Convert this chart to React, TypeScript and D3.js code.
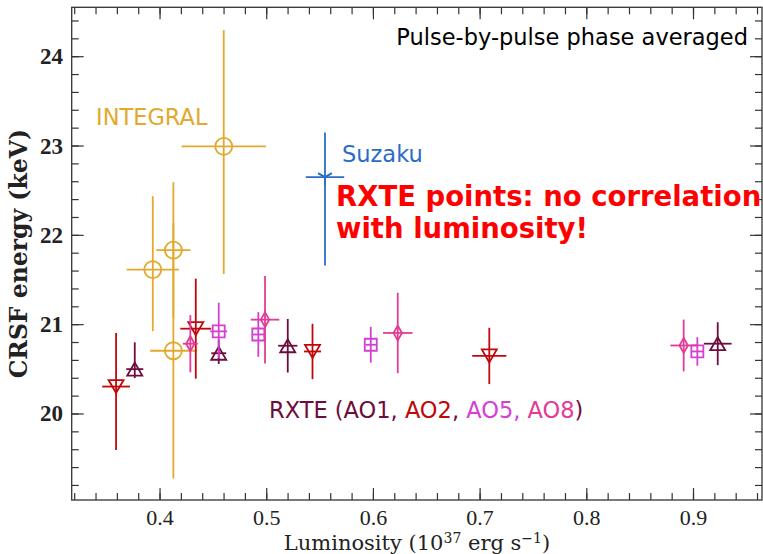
import React from 'react';
import * as d3 from 'd3';

const W = 763;
const H = 554;
const PLOT = { left: 71.7, right: 762, top: 7.3, bottom: 500 };

const xDomain = [0.3172, 0.9642];
const yDomain = [19.037, 24.553];
const xMajorTicks = [0.4, 0.5, 0.6, 0.7, 0.8, 0.9];
const yMajorTicks = [20, 21, 22, 23, 24];

// INTEGRAL
const integralL = [0.3932, 0.4125, 0.4125, 0.4597];
const integralE = [21.617, 21.835, 20.708, 22.997];
const integralLErr = [0.0245, 0.016, 0.0218, 0.0395];
const integralELo = [0.69, 0.76, 1.43, 1.43];
const integralEHi = [0.82, 0.76, 1.43, 1.3];

// Suzaku
const suzakuL = [0.5546];
const suzakuE = [22.652];
const suzakuLErr = [0.018];
const suzakuELo = [0.99];
const suzakuEHi = [0.5];

// RXTE AO1
const ao1L = [0.3763, 0.455, 0.5197, 0.9227];
const ao1E = [20.502, 20.68, 20.764, 20.787];
const ao1LErr = [0.008, 0.007, 0.009, 0.013];
const ao1ELo = [0.1, 0.12, 0.3, 0.24];
const ao1EHi = [0.3, 0.15, 0.3, 0.24];

// RXTE AO2
const ao2L = [0.3588, 0.4335, 0.5429, 0.7086];
const ao2E = [20.307, 20.955, 20.7, 20.65];
const ao2LErr = [0.013, 0.0145, 0.008, 0.016];
const ao2ELo = [0.71, 0.56, 0.31, 0.315];
const ao2EHi = [0.6, 0.56, 0.31, 0.315];

// RXTE AO5
const ao5L = [0.455, 0.4921, 0.5975, 0.9036];
const ao5E = [20.925, 20.89, 20.775, 20.7];
const ao5LErr = [0.008, 0.006, 0.005, 0.006];
const ao5ELo = [0.3, 0.25, 0.2, 0.16];
const ao5EHi = [0.32, 0.25, 0.2, 0.16];

// RXTE AO8
const ao8L = [0.4284, 0.4984, 0.6228, 0.8908];
const ao8E = [20.787, 21.056, 20.907, 20.767];
const ao8LErr = [0.007, 0.0134, 0.0138, 0.0125];
const ao8ELo = [0.32, 0.49, 0.45, 0.29];
const ao8EHi = [0.32, 0.49, 0.45, 0.29];

const C_INTEGRAL = '#e2a92e';
const C_SUZAKU = '#2b6dc6';
const C_AO1 = '#6e0c3e';
const C_AO2 = '#c0080c';
const C_AO5 = '#d43fd4';
const C_AO8 = '#e23c96';

const x = d3.scaleLinear().domain(xDomain).range([PLOT.left, PLOT.right]);
const y = d3.scaleLinear().domain(yDomain).range([PLOT.bottom, PLOT.top]);

type MarkerKind = 'circle' | 'tdown' | 'tup' | 'square' | 'diamond' | 'tri1';

function markerPath(kind: MarkerKind, cx: number, cy: number): string {
  const p = d3.path();
  if (kind === 'circle') {
    p.moveTo(cx + 8.5, cy);
    p.arc(cx, cy, 8.5, 0, Math.PI * 2);
    p.closePath();
  } else if (kind === 'tdown') {
    p.moveTo(cx - 7.5, cy - 6.5);
    p.lineTo(cx + 7.5, cy - 6.5);
    p.lineTo(cx, cy + 6.5);
    p.closePath();
  } else if (kind === 'tup') {
    p.moveTo(cx - 7.5, cy + 6.5);
    p.lineTo(cx + 7.5, cy + 6.5);
    p.lineTo(cx, cy - 6.5);
    p.closePath();
  } else if (kind === 'square') {
    p.rect(cx - 6, cy - 6, 12, 12);
  } else if (kind === 'diamond') {
    p.moveTo(cx, cy - 7.5);
    p.lineTo(cx + 4.2, cy);
    p.lineTo(cx, cy + 7.5);
    p.lineTo(cx - 4.2, cy);
    p.closePath();
  } else {
    const r = 8;
    p.moveTo(cx, cy);
    p.lineTo(cx, cy + r);
    p.moveTo(cx, cy);
    p.lineTo(cx - 0.866 * r, cy - 0.5 * r);
    p.moveTo(cx, cy);
    p.lineTo(cx + 0.866 * r, cy - 0.5 * r);
  }
  return p.toString();
}

interface SeriesProps {
  L: number[];
  E: number[];
  LErr: number[];
  ELo: number[];
  EHi: number[];
  color: string;
  kind: MarkerKind;
}

function Series({ L, E, LErr, ELo, EHi, color, kind }: SeriesProps) {
  return (
    <g>
      {L.map((l, i) => (
        <g key={i} stroke={color} fill="none" strokeWidth={1.8}>
          <line x1={x(l - LErr[i])} x2={x(l + LErr[i])} y1={y(E[i])} y2={y(E[i])} />
          <line x1={x(l)} x2={x(l)} y1={y(E[i] - ELo[i])} y2={y(E[i] + EHi[i])} />
          <path d={markerPath(kind, x(l), y(E[i]))} strokeWidth={kind === 'tri1' ? 2 : 1.8} />
        </g>
      ))}
    </g>
  );
}

export default function App() {
  const xMinor = d3.range(16, 49).map((i) => i * 0.02).filter((v) => v >= xDomain[0] && v <= xDomain[1]);
  const yMinor = d3.range(96, 123).map((i) => i * 0.2).filter((v) => v >= yDomain[0] && v <= yDomain[1]);
  const axisColor = '#333';
  const major = 12;
  const minor = 7;
  return (
    <svg width={W} height={H} style={{ position: 'absolute', left: 0, top: 0, background: '#fff' }}>
      <rect x={0} y={0} width={W} height={H} fill="#fff" />
      {/* ticks */}
      <g stroke={axisColor} strokeWidth={1.2}>
        {xMinor.map((v, i) => (
          <g key={'xm' + i}>
            <line x1={x(v)} x2={x(v)} y1={PLOT.bottom} y2={PLOT.bottom - minor} />
            <line x1={x(v)} x2={x(v)} y1={PLOT.top} y2={PLOT.top + minor} />
          </g>
        ))}
        {xMajorTicks.map((v, i) => (
          <g key={'xM' + i}>
            <line x1={x(v)} x2={x(v)} y1={PLOT.bottom} y2={PLOT.bottom - major} />
            <line x1={x(v)} x2={x(v)} y1={PLOT.top} y2={PLOT.top + major} />
          </g>
        ))}
        {yMinor.map((v, i) => (
          <g key={'ym' + i}>
            <line x1={PLOT.left} x2={PLOT.left + minor} y1={y(v)} y2={y(v)} />
            <line x1={PLOT.right} x2={PLOT.right - minor} y1={y(v)} y2={y(v)} />
          </g>
        ))}
        {yMajorTicks.map((v, i) => (
          <g key={'yM' + i}>
            <line x1={PLOT.left} x2={PLOT.left + major} y1={y(v)} y2={y(v)} />
            <line x1={PLOT.right} x2={PLOT.right - major} y1={y(v)} y2={y(v)} />
          </g>
        ))}
      </g>
      <rect
        x={PLOT.left}
        y={PLOT.top}
        width={PLOT.right - PLOT.left}
        height={PLOT.bottom - PLOT.top}
        fill="none"
        stroke={axisColor}
        strokeWidth={1.3}
      />
      {/* tick labels */}
      <g fontFamily="Liberation Serif" fontSize={22} fill="#222">
        {xMajorTicks.map((v, i) => (
          <text key={'xl' + i} x={x(v)} y={525} textAnchor="middle">
            {v.toFixed(1)}
          </text>
        ))}
        {yMajorTicks.map((v, i) => (
          <text key={'yl' + i} x={63} y={y(v) + 7.5} textAnchor="end" fontWeight="bold" fontSize={23}>
            {v}
          </text>
        ))}
      </g>
      {/* axis labels */}
      <text x={417} y={550} textAnchor="middle" fontFamily="DejaVu Serif" fontSize={21} fill="#222">
        Luminosity (10
        <tspan dy={-7} fontSize={14}>37</tspan>
        <tspan dy={7}> erg s</tspan>
        <tspan dy={-7} fontSize={14}>−1</tspan>
        <tspan dy={7}>)</tspan>
      </text>
      <text
        transform={`translate(27, ${(PLOT.top + PLOT.bottom) / 2}) rotate(-90)`}
        textAnchor="middle"
        fontFamily="DejaVu Serif"
        fontSize={23.5}
        fontWeight="bold"
        fill="#222"
      >
        CRSF energy (keV)
      </text>

      {/* data */}
      <Series L={integralL} E={integralE} LErr={integralLErr} ELo={integralELo} EHi={integralEHi} color={C_INTEGRAL} kind="circle" />
      <Series L={suzakuL} E={suzakuE} LErr={suzakuLErr} ELo={suzakuELo} EHi={suzakuEHi} color={C_SUZAKU} kind="tri1" />
      <Series L={ao1L} E={ao1E} LErr={ao1LErr} ELo={ao1ELo} EHi={ao1EHi} color={C_AO1} kind="tup" />
      <Series L={ao2L} E={ao2E} LErr={ao2LErr} ELo={ao2ELo} EHi={ao2EHi} color={C_AO2} kind="tdown" />
      <Series L={ao5L} E={ao5E} LErr={ao5LErr} ELo={ao5ELo} EHi={ao5EHi} color={C_AO5} kind="square" />
      <Series L={ao8L} E={ao8E} LErr={ao8LErr} ELo={ao8ELo} EHi={ao8EHi} color={C_AO8} kind="diamond" />

      {/* annotations */}
      <g fontFamily="DejaVu Sans" fontSize={22.5}>
        <text x={748} y={45} textAnchor="end" fill="#000">Pulse-by-pulse phase averaged</text>
        <text x={96} y={125} fill={C_INTEGRAL}>INTEGRAL</text>
        <text x={342} y={162} fill={C_SUZAKU}>Suzaku</text>
        <text x={269} y={418}>
          <tspan fill={C_AO1}>RXTE (AO1, </tspan>
          <tspan fill={C_AO2}>AO2</tspan>
          <tspan fill={C_AO1}>, </tspan>
          <tspan fill={C_AO5}>AO5, </tspan>
          <tspan fill={C_AO8}>AO8</tspan>
          <tspan fill={C_AO1}>)</tspan>
        </text>
      </g>
      <g fontFamily="DejaVu Sans" fontSize={27.5} fontWeight="bold" fill="#ff0000">
        <text x={336} y={206}>RXTE points: no correlation</text>
        <text x={336} y={238}>with luminosity!</text>
      </g>
    </svg>
  );
}
